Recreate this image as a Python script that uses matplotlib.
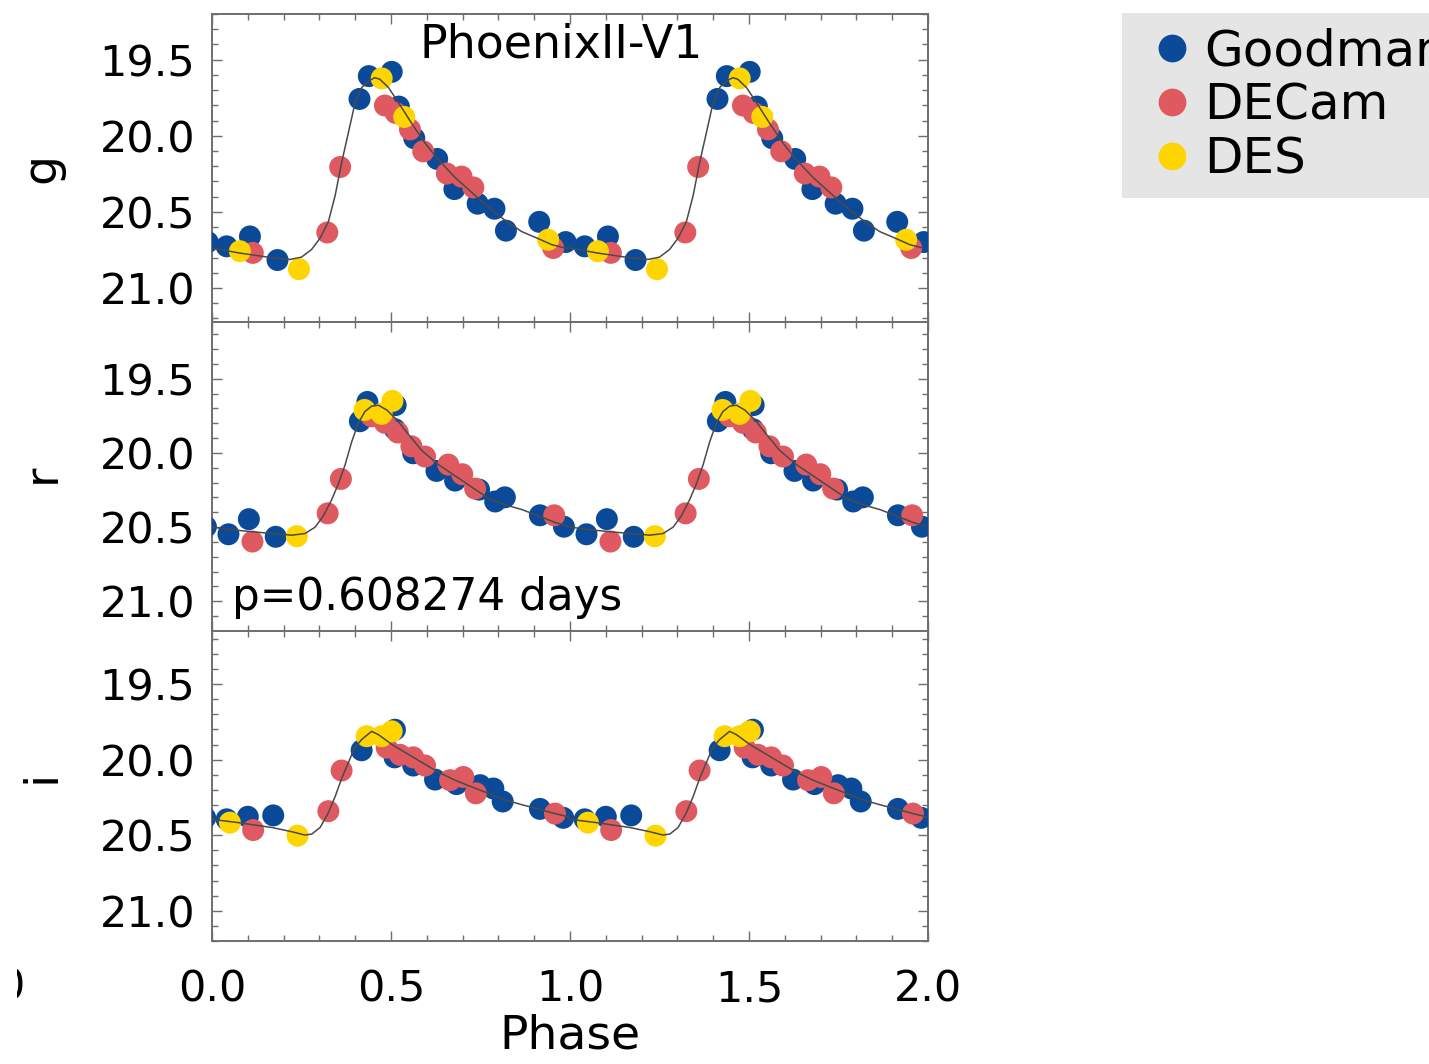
import numpy as np
import matplotlib
matplotlib.use("Agg")
import matplotlib.pyplot as plt
from matplotlib.lines import Line2D
from matplotlib.transforms import Bbox

plt.rcParams['font.family'] = ['DejaVu Sans']

# ---------------- data (phase in [0,1), magnitudes) ----------------
bands = ['g', 'r', 'i']
surveys = ['Goodman', 'DECam', 'DES']
colors = {'Goodman': '#0b4a99', 'DECam': '#de5a60', 'DES': '#fed500'}

# g band
g_goodman_phase = [0.041, 0.106, 0.183, 0.412, 0.438, 0.502, 0.522, 0.565, 0.629, 0.677, 0.742, 0.789, 0.821, 0.914, 0.988]
g_goodman_mag   = [20.726, 20.661, 20.816, 19.758, 19.608, 19.580, 19.808, 20.016, 20.152, 20.350, 20.446, 20.479, 20.623, 20.565, 20.698]
g_decam_phase = [0.114, 0.322, 0.358, 0.483, 0.513, 0.553, 0.590, 0.656, 0.697, 0.730, 0.953]
g_decam_mag   = [20.769, 20.635, 20.205, 19.801, 19.850, 19.958, 20.102, 20.248, 20.268, 20.339, 20.737]
g_des_phase = [0.078, 0.243, 0.474, 0.537, 0.939]
g_des_mag   = [20.758, 20.876, 19.623, 19.876, 20.683]
g_fit_phase = [0.000, 0.074, 0.167, 0.218, 0.250, 0.278, 0.302, 0.325, 0.344, 0.362, 0.381, 0.399, 0.418, 0.437,
               0.455, 0.469, 0.493, 0.520, 0.558, 0.595, 0.632, 0.679, 0.725, 0.772, 0.818, 0.865, 0.912, 0.949, 0.986]
g_fit_mag   = [20.737, 20.769, 20.801, 20.812, 20.797, 20.747, 20.672, 20.565, 20.392, 20.177, 19.979, 19.790, 19.683, 19.640,
               19.618, 19.629, 19.683, 19.779, 19.919, 20.048, 20.156, 20.274, 20.371, 20.468, 20.554, 20.629, 20.676, 20.715, 20.737]

# r band
r_goodman_phase = [0.046, 0.103, 0.178, 0.413, 0.434, 0.511, 0.513, 0.562, 0.627, 0.679, 0.746, 0.791, 0.818, 0.916, 0.983]
r_goodman_mag   = [20.548, 20.446, 20.565, 19.786, 19.656, 19.840, 19.677, 20.002, 20.121, 20.186, 20.247, 20.327, 20.299, 20.420, 20.497]
r_decam_phase = [0.113, 0.323, 0.360, 0.446, 0.483, 0.519, 0.557, 0.595, 0.660, 0.699, 0.735, 0.956]
r_decam_mag   = [20.597, 20.407, 20.175, 19.753, 19.797, 19.862, 19.955, 20.024, 20.078, 20.143, 20.240, 20.420]
r_des_phase = [0.237, 0.426, 0.474, 0.504]
r_des_mag   = [20.561, 19.710, 19.736, 19.649]
r_fit_phase = [0.000, 0.074, 0.167, 0.223, 0.260, 0.288, 0.311, 0.334, 0.353, 0.372, 0.390, 0.409, 0.427, 0.446,
               0.465, 0.488, 0.516, 0.548, 0.585, 0.632, 0.679, 0.725, 0.772, 0.818, 0.865, 0.912, 0.958, 0.995]
r_fit_mag   = [20.500, 20.522, 20.543, 20.554, 20.543, 20.500, 20.424, 20.316, 20.208, 20.078, 19.926, 19.797, 19.721, 19.684,
               19.678, 19.710, 19.775, 19.872, 19.981, 20.078, 20.154, 20.229, 20.305, 20.349, 20.381, 20.424, 20.468, 20.494]

# i band
i_goodman_phase = [0.041, 0.100, 0.171, 0.418, 0.511, 0.510, 0.562, 0.623, 0.683, 0.749, 0.786, 0.812, 0.916, 0.981]
i_goodman_mag   = [20.395, 20.378, 20.369, 19.938, 19.802, 19.985, 20.039, 20.132, 20.162, 20.169, 20.191, 20.277, 20.326, 20.385]
i_decam_phase = [0.115, 0.325, 0.362, 0.488, 0.525, 0.562, 0.595, 0.665, 0.702, 0.737, 0.958]
i_decam_mag   = [20.466, 20.341, 20.072, 19.921, 19.968, 19.985, 20.039, 20.136, 20.115, 20.223, 20.357]
i_des_phase = [0.050, 0.239, 0.432, 0.474, 0.502]
i_des_mag   = [20.417, 20.503, 19.845, 19.845, 19.813]
i_fit_phase = [0.000, 0.074, 0.167, 0.223, 0.260, 0.279, 0.302, 0.325, 0.344, 0.362, 0.381, 0.399, 0.418, 0.437,
               0.446, 0.465, 0.502, 0.540, 0.586, 0.632, 0.679, 0.725, 0.772, 0.818, 0.865, 0.912, 0.958, 0.995]
i_fit_mag   = [20.395, 20.417, 20.449, 20.477, 20.499, 20.492, 20.449, 20.352, 20.244, 20.126, 20.018, 19.921, 19.867, 19.830,
               19.813, 19.835, 19.899, 19.953, 20.018, 20.083, 20.136, 20.180, 20.223, 20.266, 20.298, 20.327, 20.357, 20.378]

ylims = {'g': (21.223, 19.235), 'r': (21.123, 19.117), 'i': (21.161, 19.149)}
title = 'PhoenixII-V1'
period_text = 'p=0.608274 days'
xticks = [0.0, 0.5, 1.0, 1.5, 2.0]
xticklabels = ['0.0', '0.5', '1.0', '1.5', '2.0']
yticks = [19.5, 20.0, 20.5, 21.0]
yticklabels = ['19.5', '20.0', '20.5', '21.0']

data = {
    'g': {'Goodman': (g_goodman_phase, g_goodman_mag), 'DECam': (g_decam_phase, g_decam_mag),
          'DES': (g_des_phase, g_des_mag), 'fit': (g_fit_phase, g_fit_mag)},
    'r': {'Goodman': (r_goodman_phase, r_goodman_mag), 'DECam': (r_decam_phase, r_decam_mag),
          'DES': (r_des_phase, r_des_mag), 'fit': (r_fit_phase, r_fit_mag)},
    'i': {'Goodman': (i_goodman_phase, i_goodman_mag), 'DECam': (i_decam_phase, i_decam_mag),
          'DES': (i_des_phase, i_des_mag), 'fit': (i_fit_phase, i_fit_mag)},
}

# ---------------- figure ----------------
W, H = 1429, 1064
fig = plt.figure(figsize=(W / 100, H / 100), dpi=100)
fig.patch.set_facecolor('white')

left = 212 / W
width = 716 / W
panel_px = {'g': (14, 322), 'r': (322, 631), 'i': (631, 941)}
label_y = {'g': 0.5, 'r': 0.51, 'i': 0.53}

spine_col = '#6e6e6e'
tick_fs = 31
axes = {}
for b in bands:
    top, bot = panel_px[b]
    ax = fig.add_axes([left, (H - bot) / H, width, (bot - top) / H])
    axes[b] = ax
    d = data[b]
    fp, fm = np.asarray(d['fit'][0]), np.asarray(d['fit'][1])
    ax.plot(np.concatenate([fp, fp + 1]), np.concatenate([fm, fm]), color='#4a4a4a', lw=1.1, zorder=6)
    for z, s in enumerate(surveys):
        ph, mg = np.asarray(d[s][0]), np.asarray(d[s][1])
        ax.scatter(np.concatenate([ph - 1, ph, ph + 1]), np.tile(mg, 3), s=250, color=colors[s],
                   edgecolors='none', zorder=3 + z)
    ax.set_xlim(0, 2)
    ax.set_ylim(*ylims[b])
    ax.set_xticks(xticks)
    ax.set_xticks(np.arange(0, 2.001, 0.1), minor=True)
    ax.set_yticks(yticks)
    ax.set_yticklabels(yticklabels)
    ax.set_yticks(np.arange(19.2, 21.25, 0.1), minor=True)
    ax.tick_params(which='both', direction='in', top=True, right=True, color=spine_col, width=1.0)
    ax.tick_params(which='major', length=7)
    ax.tick_params(which='minor', length=4)
    ax.tick_params(axis='y', labelsize=tick_fs, pad=12)
    ax.tick_params(axis='x', labelsize=tick_fs, pad=20)
    for sp in ax.spines.values():
        sp.set_color(spine_col)
        sp.set_linewidth(1.4)
    ax.set_ylabel(b, fontsize=34)
    ax.yaxis.set_label_coords(-0.237, label_y[b])
    ax.yaxis.label.set_verticalalignment('center')
    if b != 'i':
        ax.set_xticklabels([])
    else:
        ax.set_xticklabels(xticklabels)
        ax.set_xlabel('Phase', fontsize=34, labelpad=2)

axes['g'].text(0.488, 0.860, title, transform=axes['g'].transAxes, ha='center', va='baseline', fontsize=33)
axes['r'].text(0.028, 0.068, period_text, transform=axes['r'].transAxes, ha='left', va='baseline', fontsize=31.5)

handles = [Line2D([], [], marker='o', linestyle='none', markersize=20, markerfacecolor=colors[s],
                  markeredgecolor='none') for s in surveys]
leg = fig.legend(handles, surveys, loc='upper left', bbox_to_anchor=(1122 / W, 1 - 13 / H),
                 frameon=True, fancybox=False, facecolor='#e5e5e5', edgecolor='none', framealpha=1,
                 fontsize=36, borderpad=0.29, labelspacing=0.12, handlelength=1.42, handletextpad=-0.06,
                 borderaxespad=0)

# clipped stray glyph at lower-left edge of the original figure
t = fig.text(24 / W, 1 - 988 / H, '0', fontsize=31, ha='right', va='center')
t.set_clip_box(Bbox.from_extents(17, 0, 40, H))
t.set_clip_on(True)

fig.savefig('out.png', dpi=100)
